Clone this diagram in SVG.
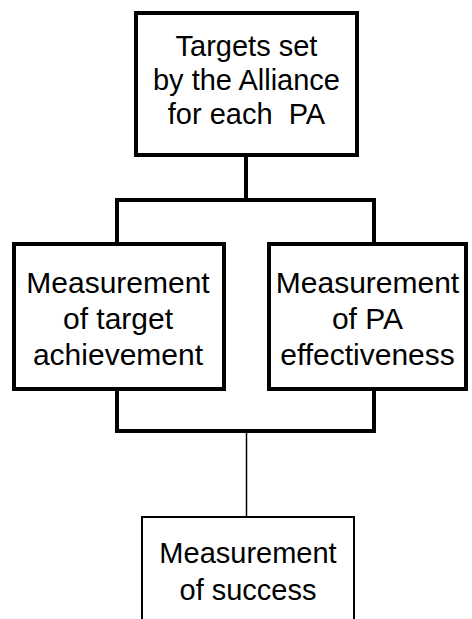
<svg xmlns="http://www.w3.org/2000/svg" width="472" height="619" viewBox="0 0 472 619">
<style>
.box{fill:#fff;stroke:#000;stroke-width:4}
.thin{fill:#fff;stroke:#000;stroke-width:2}
.t{font-family:"Liberation Sans",Arial,sans-serif;font-size:29px;fill:#000;text-anchor:middle}
.m{font-size:30px}
.c{fill:none;stroke:#000;stroke-width:4}
</style>
<rect width="472" height="619" fill="#fff"/>
<g id="connectors">
<path class="c" d="M246 155V200M115 200H376M117 198V244M374 198V244"/>
<path class="c" d="M117 389V431M374 389V431M115 431H376"/>
<path d="M246.5 431V517" stroke="#000" stroke-width="1.5" fill="none"/>
</g>
<g id="n1">
<rect class="box" x="136" y="13" width="221" height="142"/>
<text class="t" x="246.5" y="56">Targets set</text>
<text class="t" x="246.5" y="90">by the Alliance</text>
<text class="t" x="246.5" y="124" xml:space="preserve">for each  PA</text>
</g>
<g id="n2">
<rect class="box" x="14" y="244" width="210" height="145"/>
<text class="t m" x="118" y="293">Measurement</text>
<text class="t m" x="118" y="329">of target</text>
<text class="t m" x="118" y="365">achievement</text>
</g>
<g id="n3">
<rect class="box" x="269" y="244" width="197" height="145"/>
<text class="t m" x="367.5" y="293">Measurement</text>
<text class="t m" x="367.5" y="329">of PA</text>
<text class="t m" x="367.5" y="365">effectiveness</text>
</g>
<g id="n4">
<path class="thin" d="M142 625V517H354V625"/>
<text class="t" x="248" y="563">Measurement</text>
<text class="t" x="248" y="600">of success</text>
</g>
</svg>
